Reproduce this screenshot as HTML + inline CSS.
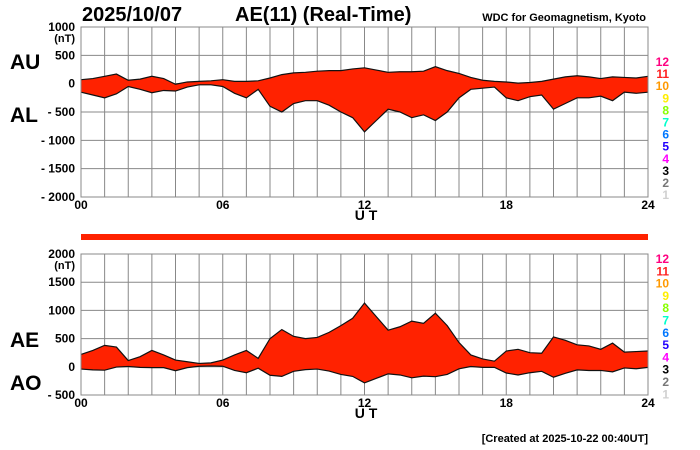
<!DOCTYPE html>
<html><head><meta charset="utf-8"><style>
body{margin:0;background:#fff;}
svg{display:block;font-family:"Liberation Sans",Arial,sans-serif;}
</style></head><body>
<svg id="c" width="700" height="450" xmlns="http://www.w3.org/2000/svg"></svg>
<script>
const hours = [0,0.5,1,1.5,2,2.5,3,3.5,4,4.5,5,5.5,6,6.5,7,7.5,8,8.5,9,9.5,10,10.5,11,11.5,12,12.5,13,13.5,14,14.5,15,15.5,16,16.5,17,17.5,18,18.5,19,19.5,20,20.5,21,21.5,22,22.5,23,23.5,24];
const auValues = [70,90,130,170,60,80,130,90,-10,30,40,50,70,40,40,50,100,160,190,200,220,230,230,260,280,240,200,210,210,220,300,230,180,110,60,40,30,10,20,40,80,120,140,120,90,120,110,100,130];
const alValues = [-150,-200,-250,-180,-50,-100,-160,-120,-130,-60,-20,-20,-50,-170,-250,-100,-400,-500,-350,-300,-300,-380,-500,-600,-850,-650,-450,-500,-600,-550,-650,-500,-250,-100,-80,-60,-250,-300,-230,-200,-450,-350,-250,-250,-220,-300,-150,-170,-150];
const aeValues = auValues.map((u,i)=>u-alValues[i]);
const aoValues = auValues.map((u,i)=>(u+alValues[i])/2);
const xTicks = ["00","06","12","18","24"];
const topTicks = [1000,500,0,-500,-1000,-1500,-2000];
const botTicks = [2000,1500,1000,500,0,-500];
const legendLabels = ["12","11","10","9","8","7","6","5","4","3","2","1"];
const legendColors = ["#ff0080","#ff2020","#ff9900","#ffee00","#88ff00","#00ffcc","#0077ff","#2200ff","#ff00ff","#000000","#777777","#d0d0d0"];

const NS="http://www.w3.org/2000/svg";
const svg=document.getElementById('c');
const X0=81,X1=648;
const xs=h=>X0+(X1-X0)*h/24;
function mk(tag,attrs,parent){const e=document.createElementNS(NS,tag);for(const k in attrs)e.setAttribute(k,attrs[k]);(parent||svg).appendChild(e);return e;}
function txt(s,x,y,size,anchor,fill,weight){const t=mk('text',{x:x,y:y,'font-size':size,'text-anchor':anchor||'start',fill:fill||'#000','font-weight':weight||'bold'});t.textContent=s;return t;}

function panel(name,yTop,yBot,vMax,vMin,ticks,upper,lower,labU,labL,labUy,labLy,legY,legStep){
  const ys=v=>yTop+(vMax-v)/(vMax-vMin)*(yBot-yTop);
  const g=mk('g',{});
  
  
  // grid
  for(let h=0;h<=24;h++){const l=mk('line',{x1:xs(h),x2:xs(h),y1:yTop,y2:yBot,stroke:'#888','stroke-width':1},g);
    
    }
  ticks.forEach(v=>{const l=mk('line',{x1:X0,x2:X1,y1:ys(v),y2:ys(v),stroke:'#888','stroke-width':1},g);
    
    
    const lab=v<0?'- '+(-v):String(v);
    const t=txt(lab,75,ys(v)+4,12,'end');
    
    });
  const nt=txt('(nT)',75,ys(ticks[0])+15,11,'end');
  
  
  // area
  let d='M'+xs(hours[0])+','+ys(upper[0]);
  for(let i=1;i<hours.length;i++)d+='L'+xs(hours[i])+','+ys(upper[i]);
  for(let i=hours.length-1;i>=0;i--)d+='L'+xs(hours[i])+','+ys(lower[i]);
  d+='Z';
  const a=mk('path',{d:d,fill:'#ff2200',stroke:'none'},g);
  
  
  // lines
  [upper,lower].forEach((arr,k)=>{let p='';arr.forEach((v,i)=>p+=(i?'L':'M')+xs(hours[i])+','+ys(v));
    const pl=mk('path',{d:p,fill:'none',stroke:'#111','stroke-width':1.2},g);
    
    });
  mk('rect',{x:X0,y:yTop,width:X1-X0,height:yBot-yTop,fill:'none',stroke:'#888'},g);
  xTicks.forEach((s,i)=>{const t=txt(s,xs(i*6),yBot+12,12,'middle');
    
    });
  const ut=txt('U  T',366,yBot+23,14,'middle');
  ut.setAttribute('xml:space','preserve');
  
  
  const tu=txt(labU,10,labUy,21,'start');
  
  
  const tl=txt(labL,10,labLy,21,'start');
  
  
  legendLabels.forEach((s,i)=>{const t=txt(s,669,legY+i*legStep,12,'end',legendColors[i]);
    
    });
}
panel('au-al',27,197,1000,-2000,topTicks,auValues,alValues,'AU','AL',69,122,66,12.1);
panel('ae-ao',254,395,2000,-500,botTicks,aeValues,aoValues,'AE','AO',347,390,263,12.3);

const bar=mk('rect',{x:X0,y:234,width:X1-X0,height:6,fill:'#ff2200'});


const t1=txt('2025/10/07',82,21,20,'start');


const t2=txt('AE(11) (Real-Time)',235,21,20,'start');


const t3=txt('WDC for Geomagnetism, Kyoto',646,21,11,'end');


const t4=txt('[Created at 2025-10-22 00:40UT]',648,442,11,'end');


</script>
</body></html>
